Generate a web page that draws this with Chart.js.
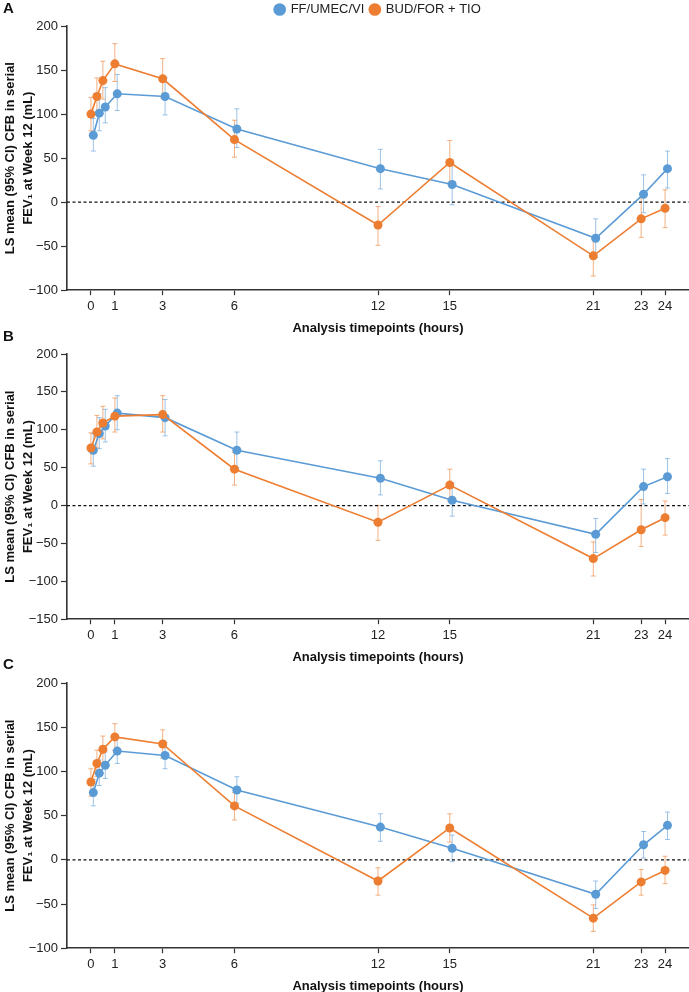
<!DOCTYPE html>
<html>
<head>
<meta charset="utf-8">
<script src="https://cdn.jsdelivr.net/npm/chart.js@4.4.0/dist/chart.umd.min.js"></script>
<style>
  html, body { margin: 0; padding: 0; background: #fff; overflow: hidden; }
  body { width: 689px; height: 992px; position: relative; font-family: "Liberation Sans", Arial, sans-serif; }
  canvas { position: absolute; left: 0; }
  .panel-label { position: absolute; left: 3px; font-weight: bold; font-size: 15px; line-height: 17px; color: #111; }
</style>
</head>
<body>
<canvas id="chartA" style="top:-3px"></canvas>
<canvas id="chartB" style="top:334px"></canvas>
<canvas id="chartC" style="top:663px"></canvas>
<div class="panel-label" style="top:-1px">A</div>
<div class="panel-label" style="top:327px">B</div>
<div class="panel-label" style="top:655px">C</div>
<script>
// timepoints (hours) and axis ticks
const timepoints = [0, 0.25, 0.5, 1, 3, 6, 12, 15, 21, 23, 24];
const xTickValues = [0, 1, 3, 6, 12, 15, 21, 23, 24];
const seriesNames = ['FF/UMEC/VI', 'BUD/FOR + TIO'];

// panel A
const blueA = [76, 101, 108, 123, 120, 83, 38, 20, -41, 9, 38];
const blueALo = [58, 81, 90, 104, 99, 62, 15, -3, -63, -12, 16];
const blueAHi = [95, 123, 130, 145, 142, 106, 60, 43, -19, 31, 58];
const orangeA = [100, 120, 138, 157, 140, 71, -26, 45, -61, -19, -7];
const orangeALo = [81, 99, 117, 137, 118, 51, -49, 22, -84, -40, -29];
const orangeAHi = [119, 141, 160, 180, 163, 93, -5, 70, -39, 5, 14];

// panel B
const blueB = [73, 95, 105, 122, 116, 73, 36, 7, -38, 25, 38];
const blueBLo = [52, 75, 84, 100, 92, 50, 14, -14, -62, 2, 16];
const blueBHi = [95, 116, 127, 145, 140, 97, 59, 30, -17, 48, 62];
const orangeB = [76, 97, 109, 118, 120, 48, -22, 27, -70, -32, -16];
const orangeBLo = [55, 76, 88, 97, 97, 27, -46, 6, -93, -54, -39];
const orangeBHi = [96, 119, 131, 142, 145, 70, 0, 48, -48, 8, 6];

// panel C
const blueC = [76, 98, 107, 123, 118, 79, 37, 13, -39, 17, 39];
const blueCLo = [61, 84, 92, 109, 103, 64, 21, -2, -55, 2, 23];
const blueCHi = [91, 113, 122, 138, 133, 94, 52, 28, -24, 32, 54];
const orangeC = [88, 109, 125, 139, 131, 61, -24, 36, -66, -25, -12];
const orangeCLo = [72, 94, 110, 124, 115, 45, -40, 20, -81, -40, -27];
const orangeCHi = [103, 124, 140, 154, 147, 76, -9, 52, -51, -11, 4];

const BLUE = '#5b9bd5';
const ORANGE = '#ed7d31';
const BLUE_ERR = 'rgba(91,155,213,0.6)';
const ORANGE_ERR = 'rgba(237,125,49,0.6)';
const AXIS = '#333333';
const blueShift = 0.1; // blue drawn slightly right of orange

const errorBars = {
  id: 'errorBars',
  beforeDatasetsDraw(chart) {
    const ctx = chart.ctx;
    const xs = chart.scales.x, ys = chart.scales.y;
    chart.data.datasets.forEach(ds => {
      if (!ds.errLo) return;
      ctx.save();
      ctx.strokeStyle = ds.errColor;
      ctx.lineWidth = 1;
      ds.data.forEach((p, i) => {
        const x = xs.getPixelForValue(p.x);
        const y1 = ys.getPixelForValue(ds.errLo[i]);
        const y2 = ys.getPixelForValue(ds.errHi[i]);
        ctx.beginPath();
        ctx.moveTo(x, y1); ctx.lineTo(x, y2);
        ctx.moveTo(x - 2.5, y1); ctx.lineTo(x + 2.5, y1);
        ctx.moveTo(x - 2.5, y2); ctx.lineTo(x + 2.5, y2);
        ctx.stroke();
      });
      ctx.restore();
    });
  }
};

function toPoints(vals, shift) {
  return vals.map((v, i) => ({ x: timepoints[i] + shift, y: v }));
}

function makeChart(id, h, yMin, blue, bLo, bHi, orange, oLo, oHi, withLegend) {
  const cv = document.getElementById(id);
  cv.width = 689; cv.height = h;
  return new Chart(cv, {
    type: 'line',
    data: {
      datasets: [
        {
          label: seriesNames[0], data: toPoints(blue, blueShift),
          errLo: bLo, errHi: bHi, errColor: BLUE_ERR,
          borderColor: BLUE, backgroundColor: BLUE, borderWidth: 1.6,
          pointRadius: 4.5, pointBorderWidth: 0, pointStyle: 'circle', order: 2
        },
        {
          label: seriesNames[1], data: toPoints(orange, 0),
          errLo: oLo, errHi: oHi, errColor: ORANGE_ERR,
          borderColor: ORANGE, backgroundColor: ORANGE, borderWidth: 1.6,
          pointRadius: 4.5, pointBorderWidth: 0, pointStyle: 'circle', order: 1
        },
        {
          label: '', data: [{ x: -1, y: 0 }, { x: 25, y: 0 }],
          borderColor: '#111', borderWidth: 1.2, borderDash: [3, 2.5],
          pointRadius: 0, order: 3
        }
      ]
    },
    options: {
      responsive: false,
      animation: false,
      events: [],
      layout: {
        autoPadding: false,
        padding: { top: withLegend ? 0 : 20, left: 0, right: 0, bottom: 0 }
      },
      plugins: {
        legend: {
          display: withLegend,
          position: 'top',
          fullSize: false,
          labels: {
            usePointStyle: true, boxWidth: 9, boxHeight: 9, padding: 6,
            color: '#222', font: { family: 'Liberation Sans', size: 13 },
            filter: item => item.text !== '',
            sort: (a, b) => a.datasetIndex - b.datasetIndex
          }
        },
        tooltip: { enabled: false }
      },
      scales: {
        x: {
          type: 'linear', min: -1, max: 25,
          afterBuildTicks: axis => { axis.ticks = xTickValues.map(v => ({ value: v })); },
          grid: { drawOnChartArea: false, tickLength: 5, tickColor: AXIS, tickWidth: 1.2 },
          border: { color: AXIS, width: 1.6 },
          ticks: { color: '#222', padding: 3, maxRotation: 0, font: { family: 'Liberation Sans', size: 13 } },
          title: {
            display: true, text: 'Analysis timepoints (hours)', color: '#111',
            font: { family: 'Liberation Sans', size: 13, weight: 'bold' },
            padding: { top: 3.6, bottom: 0 }
          }
        },
        y: {
          min: yMin, max: 200,
          afterFit: scale => { scale.width = 67; },
          grid: { drawOnChartArea: false, tickLength: 6, tickColor: AXIS, tickWidth: 1.2 },
          border: { color: AXIS, width: 1.6 },
          ticks: {
            stepSize: 50, color: '#222', padding: 3,
            font: { family: 'Liberation Sans', size: 13 },
            callback: v => (v < 0 ? '\u2212' + Math.abs(v) : String(v))
          },
          title: {
            display: true,
            text: ['LS mean (95% CI) CFB in serial', 'FEV\u2081 at Week 12 (mL)'],
            color: '#111',
            font: { family: 'Liberation Sans', size: 13, weight: 'bold', lineHeight: 1.4 },
            padding: { top: 1, bottom: 0 }
          }
        }
      }
    },
    plugins: [errorBars]
  });
}

makeChart('chartA', 339, -100, blueA, blueALo, blueAHi, orangeA, orangeALo, orangeAHi, true);
makeChart('chartB', 331, -150, blueB, blueBLo, blueBHi, orangeB, orangeBLo, orangeBHi, false);
makeChart('chartC', 331, -100, blueC, blueCLo, blueCHi, orangeC, orangeCLo, orangeCHi, false);
</script>
</body>
</html>
